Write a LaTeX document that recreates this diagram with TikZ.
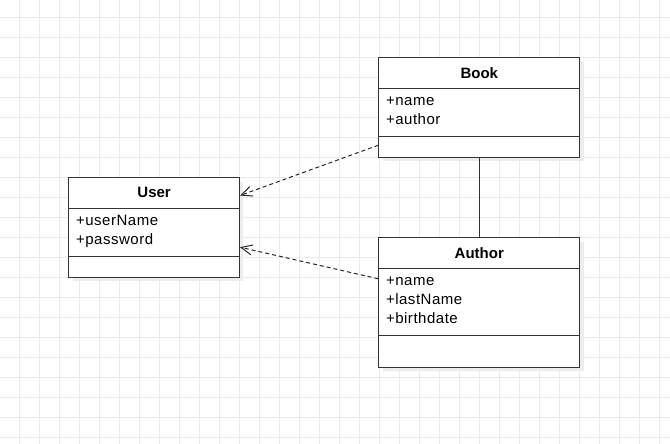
\documentclass[tikz,border=0pt]{standalone}
\usepackage{fontspec}
\setmainfont{Liberation Sans}
\usetikzlibrary{arrows.meta}

\tikzset{
  gridline/.style={draw=black!8, line width=0.8pt},
  shadowbox/.style={fill=black!7, inner sep=0pt, anchor=north west},
  classbox/.style={draw=black!80, fill=white, line width=1pt, inner sep=0pt, anchor=north west},
  classline/.style={draw=black!80, line width=1pt},
  classtitle/.style={font=\fontsize{15}{18}\selectfont\bfseries, inner sep=0pt},
  attr/.style={font=\fontsize{15}{18}\selectfont\addfontfeature{LetterSpace=3.5}, anchor=base west, inner sep=0pt},
  dep/.style={draw=black!85, line width=1pt, dash pattern=on 4pt off 3pt, -{Straight Barb[length=11pt, width=10pt]}},
}

\begin{document}
\begin{tikzpicture}[x=1pt, y=-1pt]
  \useasboundingbox (0, 0) rectangle (670, 444);
  % grid
  \foreach \gx in {19, 39, ..., 659}
    \draw [gridline] (\gx, 0) -- (\gx, 444);
  \foreach \gy in {17, 37, ..., 437}
    \draw [gridline] (0, \gy) -- (670, \gy);

  % shadows
  \node [shadowbox, minimum width=201pt, minimum height=99.4pt] (bookshadow) at (382.3, 61.3) {};
  \node [shadowbox, minimum width=170.7pt, minimum height=99.4pt] (usershadow) at (72.3, 181.3) {};
  \node [shadowbox, minimum width=201pt, minimum height=129.4pt] (authorshadow) at (382.3, 241.3) {};

  % classes
  \node [classbox, minimum width=201pt, minimum height=99.4pt] (book) at (378.3, 57.3) {};
  \node [classbox, minimum width=170.7pt, minimum height=99.4pt] (user) at (68.3, 177.3) {};
  \node [classbox, minimum width=201pt, minimum height=129.4pt] (author) at (378.3, 237.3) {};

  \draw [classline] ([yshift=-31pt]book.north west) -- ([yshift=-31pt]book.north east);
  \draw [classline] ([yshift=21pt]book.south west) -- ([yshift=21pt]book.south east);
  \draw [classline] ([yshift=-31pt]user.north west) -- ([yshift=-31pt]user.north east);
  \draw [classline] ([yshift=21pt]user.south west) -- ([yshift=21pt]user.south east);
  \draw [classline] ([yshift=-31pt]author.north west) -- ([yshift=-31pt]author.north east);
  \draw [classline] ([yshift=32.4pt]author.south west) -- ([yshift=32.4pt]author.south east);

  \node [classtitle] (booktitle) at ([yshift=-15.5pt]book.north) {Book};
  \node [classtitle] (usertitle) at ([yshift=-15.5pt]user.north) {User};
  \node [classtitle] (authortitle) at ([yshift=-15.5pt]author.north) {Author};

  \foreach \a [count=\i] in {name, author}
    \node [attr] (bookattr\i) at ([xshift=7.5pt, yshift={-29pt-19pt*\i}]book.north west) {+\a};
  \foreach \a [count=\i] in {userName, password}
    \node [attr] (userattr\i) at ([xshift=7.5pt, yshift={-29pt-19pt*\i}]user.north west) {+\a};
  \foreach \a [count=\i] in {name, lastName, birthdate}
    \node [attr] (authorattr\i) at ([xshift=7.5pt, yshift={-29pt-19pt*\i}]author.north west) {+\a};

  % relations
  \draw [dep] ([yshift=-37.7pt]book.west) -- ([yshift=32pt]user.east);
  \draw [dep] ([yshift=23.7pt]author.west) -- ([yshift=-19.7pt]user.east);
  \draw [classline] (book.south) -- (author.north);
\end{tikzpicture}
\end{document}
